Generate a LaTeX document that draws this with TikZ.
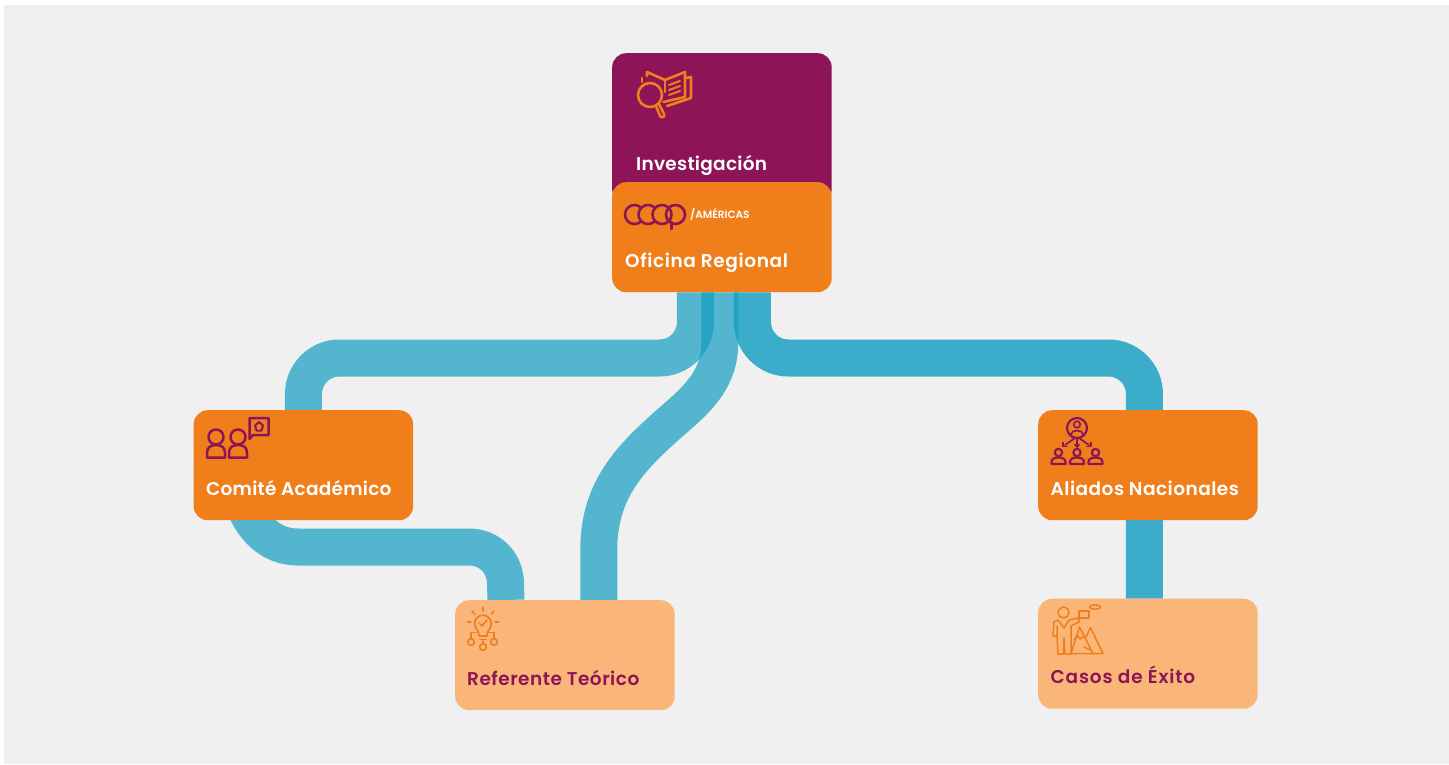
\documentclass[tikz,border=0pt]{standalone}
\usepackage{fontspec}
\setmainfont{Poppins}[BoldFont={Poppins SemiBold}]
\usetikzlibrary{backgrounds,calc}
\definecolor{bgrey}{HTML}{F0F0F0}
\definecolor{plum}{HTML}{8C1457}
\definecolor{orng}{HTML}{F07F1B}
\definecolor{peach}{HTML}{FAB679}
\definecolor{teal}{HTML}{149EC1}
\tikzset{
  card/.style={rounded corners=14pt,minimum width=219.5pt,minimum height=110pt,inner sep=0pt,draw=none,anchor=north west},
  lab/.style={anchor=base west,inner sep=0pt,font=\fontsize{18.5}{20}\selectfont\bfseries},
  bandl/.style={line width=37pt,draw=teal,opacity=.71,line cap=butt},
  bandr/.style={line width=37pt,draw=teal,opacity=.82,line cap=butt},
  ico/.style={line width=2.2pt,line join=round,line cap=round},
}
\begin{document}
\begin{tikzpicture}[x=1pt,y=-1pt]
\useasboundingbox (0,0) rectangle (1449,764);
\node[card,fill=plum,minimum height=150pt] (inv) at (612,53) {};
\node[card,fill=orng] (ofi) at (612,182) {};
\node[card,fill=orng] (com) at (193.5,410) {};
\node[card,fill=orng] (ali) at (1038,410) {};
\node[card,fill=peach] (ref) at (455,600) {};
\node[card,fill=peach] (cas) at (1038,598.5) {};
\node[lab,text=white] (tinv) at (636,170) {\addfontfeature{LetterSpace=1.5}Investigación};
\node[lab,text=white] (tofi) at (625,267) {\addfontfeature{LetterSpace=3.3}Oficina Regional};
\node[anchor=base west,inner sep=0pt,text=white,font=\fontsize{10.5}{10}\selectfont\bfseries] (tame) at (690,218) {/AMÉRICAS};
\node[lab,text=white] (tcom) at (206,495) {\addfontfeature{LetterSpace=1.3}Comité Académico};
\node[lab,text=white] (tali) at (1050.5,495) {\addfontfeature{LetterSpace=2.6}Aliados Nacionales};
\node[lab,text=plum] (tref) at (467,685) {\addfontfeature{LetterSpace=2.7}Referente Teórico};
\node[lab,text=plum] (tcas) at (1050.5,683) {\addfontfeature{LetterSpace=4.4}Casos de Éxito};
\begin{scope}[on background layer]
  \fill[bgrey] (4,5) rectangle (1449,764);
  % left band
  \draw[bandl,rounded corners=36pt] ([xshift=-26.5pt]ofi.south) |- ($(com.north)+(0,-52)$) -- (com.north);
  % middle band
  \draw[bandl] ([xshift=-2pt]ofi.south) -- ++(0,48) .. controls +(0,38) and (700,397) .. (671,422) .. controls (630,458) and (598.75,490) .. (598.75,550) -- ([xshift=34pt]ref.north);
  % lower band
  \draw[bandl] ([xshift=-58pt,yshift=12pt]com.south) .. controls (255,530) and (272,547) .. (298,547) -- (469,547) .. controls (490,547) and (505.5,563) .. (505.5,584) -- ([xshift=-59pt]ref.north);
  % right band
  \draw[bandr,rounded corners=36pt] ([xshift=30.5pt]ofi.south) |- ($(ali.north)+(-3.5,0)+(0,-52)$) -- ([xshift=-3.5pt]cas.north);
\end{scope}
% icon: research
\begin{scope}[ico,draw=orng,line width=2.6pt]
  \draw (650,95) circle (12);
  \draw[rounded corners=2pt] (655.5,105) -- (661,118) -- (665,116) -- (659,104);
  \draw (647,76) -- (647,72) -- (665,80) -- (685,72) -- (685,97) -- (663.5,102);
  \draw (665,80) -- (665,92);
  \draw (642,78) -- (642,82);
  \draw (686,78) -- (691,77) -- (691,98) -- (667,106);
  \draw[line width=2pt] (669,85) -- (680,81) (669,90) -- (680,86) (669,95) -- (680,91);
\end{scope}
% icon: coop logo
\begin{scope}[line width=2.6pt,draw=plum,line cap=round]
  \draw (640.6,221.8) arc (50:310:9.5);
  \draw (654.1,221.8) arc (50:310:9.5);
  \draw (662,214.5) circle (9.5);
  \draw (675.5,214.5) circle (9.5);
  \draw (671.5,222) -- (671.5,229);
\end{scope}
% icon: committee
\begin{scope}[ico,draw=plum,line width=2.5pt]
  \draw (216,437) circle (7.5);
  \draw (238,437) circle (7.5);
  \foreach \x in {216,238} {
    \draw (\x-9,457.5) -- (\x-9,453) .. controls (\x-9,447) and (\x-5,445) .. (\x,445) .. controls (\x+5,445) and (\x+9,447) .. (\x+9,453) -- (\x+9,457.5) -- cycle;
  }
  \draw (249.5,439) -- (249.5,418) -- (268.5,418) -- (268.5,435) -- (253,435) -- cycle;
  \draw[line width=2pt] (259,422) -- (263,425.5) -- (261.5,430.5) -- (256.5,430.5) -- (255,425.5) -- cycle;
\end{scope}
% icon: national allies
\begin{scope}[ico,draw=plum]
  \draw (1077,428) circle (10);
  \draw[line width=1.7pt] (1077,424.5) circle (3.3);
  \draw[line width=1.7pt] (1070.5,435) .. controls (1071,429) and (1083,429) .. (1083.5,435);
  \foreach \x in {1058.5,1077,1095.5} {
    \draw (\x,452.5) circle (3.7);
    \draw (\x-7,464) -- (\x-7,462) .. controls (\x-7,459) and (\x-4,457.5) .. (\x,457.5) .. controls (\x+4,457.5) and (\x+7,459) .. (\x+7,462) -- (\x+7,464) -- cycle;
  }
  \draw[line width=1.7pt] (1075,438) -- (1065,445);
  \draw[line width=1.7pt] (1077,438) -- (1077,446);
  \draw[line width=1.7pt] (1079,438) -- (1089,445);
  \draw[line width=1.7pt] (1063,442.5) -- (1063,446.5) -- (1067,446.5);
  \draw[line width=1.7pt] (1075,444.5) -- (1077,447) -- (1079,444.5);
  \draw[line width=1.7pt] (1091,442.5) -- (1091,446.5) -- (1087,446.5);
\end{scope}
% icon: bulb
\begin{scope}[ico,draw=orng,line width=1.7pt]
  \draw (479,636) .. controls (479,632) and (477,630) .. (475.5,627) arc (155:385:8.3) .. controls (489,630) and (487,632) .. (487,636) -- cycle;
  \draw (480,639.5) -- (486,639.5);
  \draw (479,623) -- (482,626) -- (487,620);
  \draw (483,607.5) -- (483,611) (472,611) -- (474.5,614) (494,611) -- (491.5,614) (467.5,622) -- (471,622) (495,622) -- (498.5,622);
  \draw (471,642) circle (3.3);
  \draw (483,647) circle (3.3);
  \draw (494,642) circle (3.3);
  \draw (471,638.7) -- (471,632.5) -- (476,632.5);
  \draw (494,638.7) -- (494,632.5) -- (489,632.5);
  \draw (483,643.7) -- (483,641);
\end{scope}
% icon: success
\begin{scope}[ico,draw=orng,line width=1.5pt]
  \draw (1063.5,612.5) circle (5.5);
  \draw (1058,620) -- (1054,622) -- (1053,636) -- (1057,636) -- (1057,626);
  \draw (1058,620) -- (1064,628) -- (1069,620) -- (1078,618);
  \draw (1078,618) -- (1079,622) -- (1071,626) -- (1071,636);
  \draw (1057,636) -- (1058,654) -- (1063.5,654) -- (1064,638) -- (1065,654) -- (1071,654) -- (1071,636);
  \draw (1079,620) -- (1079,611) -- (1089,611) -- (1089,618) -- (1079,618);
  \draw (1071,653.5) -- (1079.5,627) -- (1093,653.5) -- cycle;
  \draw (1074,640) -- (1078,636) -- (1080,639) -- (1084,636);
  \draw (1086,637) -- (1090.5,627.5) -- (1103,653.5) -- (1093,653.5);
  \draw (1084,647) -- (1090,650);
  \draw (1095,607) ellipse (5.5 and 2.2);
\end{scope}
\end{tikzpicture}
\end{document}
